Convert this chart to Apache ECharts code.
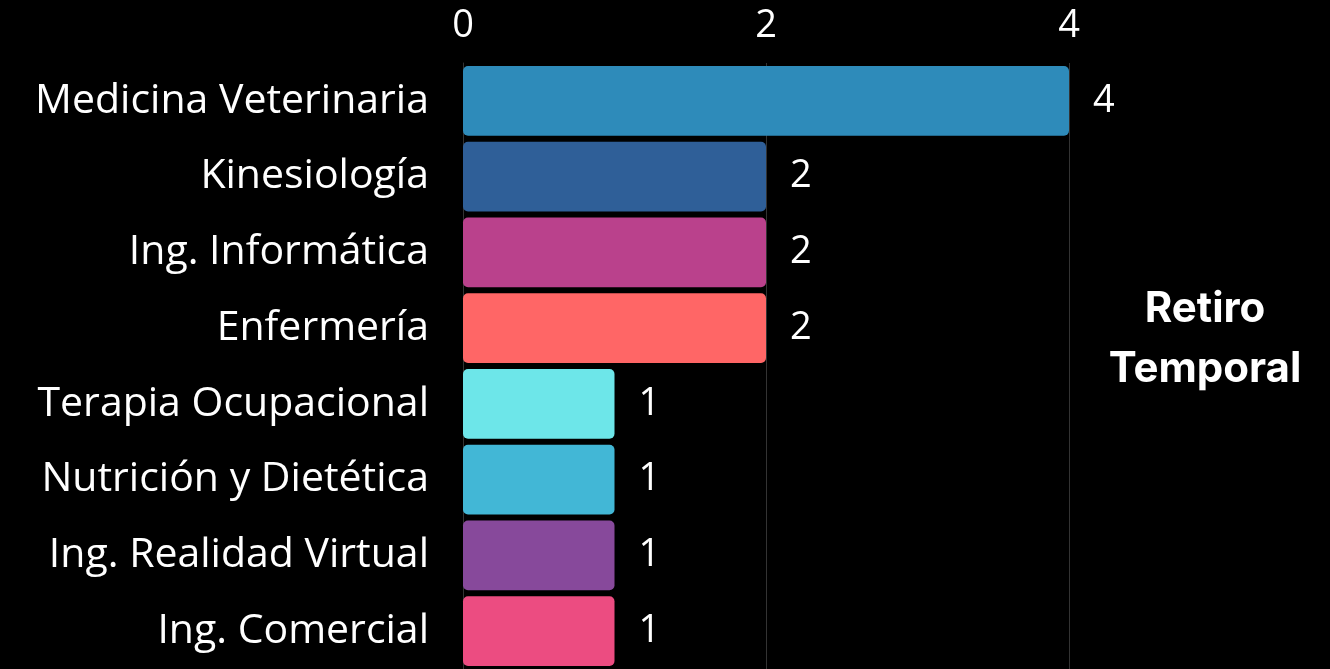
<!DOCTYPE html>
<html lang="es">
<head>
    <meta charset="UTF-8">
    <title>Retiro Temporal</title>
    <style>
        html, body { margin: 0; padding: 0; background: #000; }
        #main { width: 1330px; height: 669px; }
    </style>
</head>
<body>
    <div id="main"></div>
    <script src="https://cdn.jsdelivr.net/npm/echarts@6/dist/echarts.min.js"></script>
    <script>
        // datos
        var carreras = ['Medicina Veterinaria', 'Kinesiología', 'Ing. Informática', 'Enfermería',
            'Terapia Ocupacional', 'Nutrición y Dietética', 'Ing. Realidad Virtual', 'Ing. Comercial'];
        var valores = [4, 2, 2, 2, 1, 1, 1, 1];
        var colores = ['#2E8BBA', '#2F5F98', '#BA418C', '#FF6666', '#6DE6E9', '#42B7D6', '#87499B', '#EC4C81'];
        var ticksX = [0, 2, 4];

        var fuente = '"Open Sans", Lato, sans-serif';
        var myChart = echarts.init(document.getElementById('main'));
        var option = {
            backgroundColor: '#000',
            title: {
                text: 'Retiro\nTemporal',
                left: 1200,
                top: 274,
                textAlign: 'center',
                textStyle: {
                    color: '#fff',
                    fontFamily: 'Inter, Roboto, sans-serif',
                    fontWeight: 'bold',
                    fontSize: 42,
                    lineHeight: 60
                }
            },
            grid: { left: 463, right: 261, top: 63, height: 613 },
            xAxis: {
                type: 'value',
                position: 'top',
                min: ticksX[0],
                max: ticksX[ticksX.length - 1],
                interval: 2,
                axisLine: { show: false },
                axisTick: { show: false },
                axisLabel: { color: '#fff', fontSize: 38, fontWeight: 400, fontFamily: fuente, margin: 18 },
                splitLine: { show: true, lineStyle: { color: '#333', width: 1 } }
            },
            yAxis: {
                type: 'category',
                inverse: true,
                data: carreras,
                axisLine: { show: true, lineStyle: { color: '#333' } },
                axisTick: { show: false },
                axisLabel: { color: '#fff', fontSize: 41, fontWeight: 400, fontFamily: fuente, margin: 34 }
            },
            series: [{
                type: 'bar',
                barCategoryGap: '8%',
                data: valores.map(function (v, i) {
                    return { value: v, itemStyle: { color: colores[i] } };
                }),
                itemStyle: { borderRadius: 5 },
                label: {
                    show: true,
                    position: 'right',
                    distance: 24,
                    color: '#fff',
                    fontSize: 38,
                    fontWeight: 400,
                    fontFamily: fuente
                }
            }]
        };
        myChart.setOption(option);
    </script>
</body>
</html>
